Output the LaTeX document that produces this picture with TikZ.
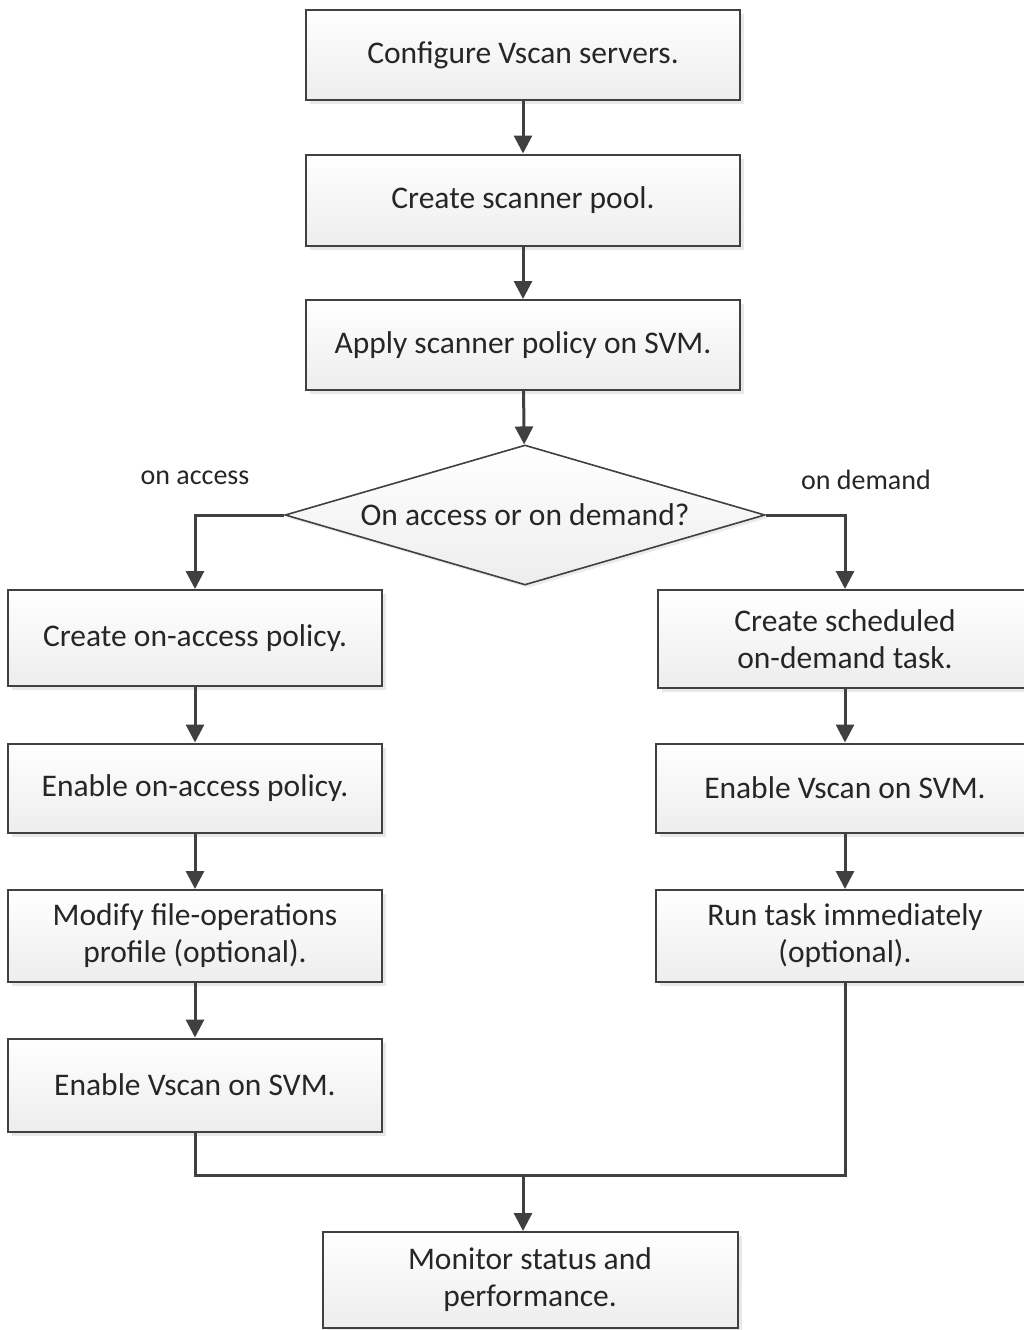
\documentclass[tikz,border=0pt]{standalone}
\usepackage{fontspec}
\setmainfont{Carlito}
\usetikzlibrary{arrows.meta,shapes.geometric,shadows}
\definecolor{linegray}{HTML}{404040}
\definecolor{textgray}{HTML}{262626}
\tikzset{
    stepbox/.style={rectangle, draw=linegray, line width=2pt, top color=white,
        bottom color=black!7, text=textgray, align=center,
        font=\fontsize{31.5}{37}\selectfont,
        drop shadow={opacity=0.18, shadow xshift=4pt, shadow yshift=-4pt}},
    choicebox/.style={diamond, aspect=3.43, draw=linegray, line width=1.6pt, top color=white,
        bottom color=black!7, text=textgray, inner sep=0pt,
        font=\fontsize{31.5}{37}\selectfont,
        drop shadow={opacity=0.15, shadow xshift=3pt, shadow yshift=-3pt}},
    branch/.style={text=textgray, font=\fontsize{28}{32}\selectfont},
    flow/.style={draw=linegray, line width=3pt},
    arr/.style={flow, -{Triangle[length=18pt, width=18pt]}}
}
\begin{document}
\begin{tikzpicture}[x=1pt, y=-1pt]
        \useasboundingbox (0,0) rectangle (1023,1330);
        % main column
        \node[stepbox, minimum width=434pt, minimum height=90pt] (cfg) at (523,55) {Configure Vscan servers.};
        \node[stepbox, minimum width=434pt, minimum height=91pt] (pool) at (523,200) {Create scanner pool.};
        \node[stepbox, minimum width=434pt, minimum height=90pt] (apply) at (523,345) {Apply scanner policy on SVM.};
        \node[choicebox, minimum width=480pt, minimum height=140pt] (choice) at (525,515) {On access or on demand?};
        \node[branch] (lacc) at (195,478) {on access};
        \node[branch] (ldem) at (866,480) {on demand};
        % on access
        \node[stepbox, minimum width=374pt, minimum height=96pt] (acc1) at (195,638) {Create on-access policy.};
        \node[stepbox, minimum width=374pt, minimum height=89pt] (acc2) at (195,788) {Enable on-access policy.};
        \node[stepbox, minimum width=374pt, minimum height=92pt] (acc3) at (195,936) {Modify file-operations\\profile (optional).};
        \node[stepbox, minimum width=374pt, minimum height=93pt] (acc4) at (195,1085) {Enable Vscan on SVM.};
        % on demand
        \node[stepbox, minimum width=374pt, minimum height=98pt] (dem1) at (845,639) {Create scheduled\\on-demand task.};
        \node[stepbox, minimum width=378pt, minimum height=89pt] (dem2) at (845,788) {Enable Vscan on SVM.};
        \node[stepbox, minimum width=378pt, minimum height=92pt] (dem3) at (845,936) {Run task immediately\\(optional).};
        % end
        \node[stepbox, minimum width=415pt, minimum height=96pt] (mon) at (530,1280) {Monitor status and\\performance.};
        \coordinate (join) at (523,1175);

        \draw[arr] (cfg) -- (pool);
        \draw[arr] (pool) -- (apply);
        \draw[arr] (apply) -- (choice);
        \draw[arr] (choice.west) -| (acc1.north);
        \draw[arr] (choice.east) -| (dem1.north);
        \draw[arr] (acc1) -- (acc2);
        \draw[arr] (acc2) -- (acc3);
        \draw[arr] (acc3) -- (acc4);
        \draw[arr] (dem1) -- (dem2);
        \draw[arr] (dem2) -- (dem3);
        \draw[flow] (acc4.south) |- (join) -| (dem3.south);
        \draw[arr] (join) -- (join |- mon.north);
    \end{tikzpicture}
\end{document}
